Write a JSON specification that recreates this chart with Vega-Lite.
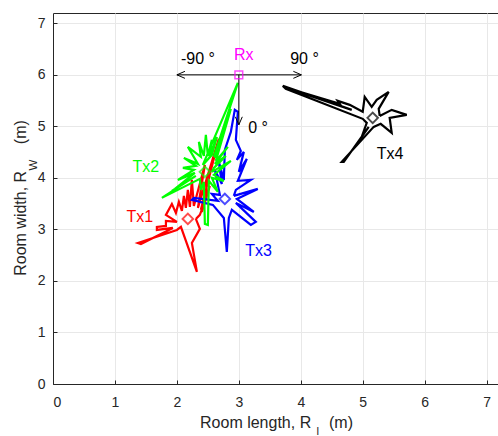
{
  "$schema": "https://vega.github.io/schema/vega-lite/v6.json",
  "width": 446,
  "height": 371,
  "autosize": "none",
  "padding": {"left": 53, "top": 13, "right": 0, "bottom": 52},
  "background": "white",
  "config": {
    "font": "Liberation Sans",
    "view": {"stroke": "#262626", "strokeWidth": 1},
    "axis": {
      "labelFont": "Liberation Sans",
      "titleFont": "Liberation Sans",
      "labelColor": "#262626",
      "titleColor": "#262626",
      "titleFontWeight": "normal",
      "domainColor": "#262626",
      "tickColor": "#262626",
      "gridColor": "#e8e8e8",
      "gridOpacity": 1
    }
  },
  "datasets": {
    "pattern": [
      {"tx": "Tx1", "k": 0, "x": 2.306, "y": 3.204},
      {"tx": "Tx1", "k": 1, "x": 2.371, "y": 3.010},
      {"tx": "Tx1", "k": 2, "x": 2.242, "y": 2.738},
      {"tx": "Tx1", "k": 3, "x": 2.323, "y": 2.175},
      {"tx": "Tx1", "k": 4, "x": 2.065, "y": 3.049},
      {"tx": "Tx1", "k": 5, "x": 2.000, "y": 2.990},
      {"tx": "Tx1", "k": 6, "x": 1.371, "y": 2.738},
      {"tx": "Tx1", "k": 7, "x": 1.419, "y": 2.718},
      {"tx": "Tx1", "k": 8, "x": 1.935, "y": 3.029},
      {"tx": "Tx1", "k": 9, "x": 1.677, "y": 2.990},
      {"tx": "Tx1", "k": 10, "x": 1.677, "y": 3.049},
      {"tx": "Tx1", "k": 11, "x": 1.823, "y": 3.068},
      {"tx": "Tx1", "k": 12, "x": 1.823, "y": 3.165},
      {"tx": "Tx1", "k": 13, "x": 2.000, "y": 3.146},
      {"tx": "Tx1", "k": 14, "x": 1.823, "y": 3.282},
      {"tx": "Tx1", "k": 15, "x": 1.919, "y": 3.495},
      {"tx": "Tx1", "k": 16, "x": 1.984, "y": 3.320},
      {"tx": "Tx1", "k": 17, "x": 2.032, "y": 3.534},
      {"tx": "Tx1", "k": 18, "x": 2.081, "y": 3.359},
      {"tx": "Tx1", "k": 19, "x": 2.113, "y": 3.650},
      {"tx": "Tx1", "k": 20, "x": 2.145, "y": 3.417},
      {"tx": "Tx1", "k": 21, "x": 2.177, "y": 3.767},
      {"tx": "Tx1", "k": 22, "x": 2.210, "y": 3.437},
      {"tx": "Tx1", "k": 23, "x": 2.242, "y": 3.961},
      {"tx": "Tx1", "k": 24, "x": 2.274, "y": 3.456},
      {"tx": "Tx1", "k": 25, "x": 2.452, "y": 4.252},
      {"tx": "Tx1", "k": 26, "x": 2.339, "y": 3.417},
      {"tx": "Tx1", "k": 27, "x": 2.677, "y": 4.757},
      {"tx": "Tx1", "k": 28, "x": 2.387, "y": 3.379},
      {"tx": "Tx1", "k": 29, "x": 2.532, "y": 3.845},
      {"tx": "Tx1", "k": 30, "x": 2.403, "y": 3.340},
      {"tx": "Tx1", "k": 31, "x": 2.484, "y": 3.650},
      {"tx": "Tx1", "k": 32, "x": 2.371, "y": 3.282},
      {"tx": "Tx1", "k": 33, "x": 2.306, "y": 3.204},

      {"tx": "Tx3", "k": 0, "x": 2.919, "y": 3.650},
      {"tx": "Tx3", "k": 1, "x": 3.306, "y": 3.786},
      {"tx": "Tx3", "k": 2, "x": 2.968, "y": 3.592},
      {"tx": "Tx3", "k": 3, "x": 3.242, "y": 3.340},
      {"tx": "Tx3", "k": 4, "x": 2.952, "y": 3.515},
      {"tx": "Tx3", "k": 5, "x": 3.274, "y": 3.146},
      {"tx": "Tx3", "k": 6, "x": 3.194, "y": 3.087},
      {"tx": "Tx3", "k": 7, "x": 2.887, "y": 3.379},
      {"tx": "Tx3", "k": 8, "x": 2.839, "y": 3.223},
      {"tx": "Tx3", "k": 9, "x": 2.806, "y": 2.563},
      {"tx": "Tx3", "k": 10, "x": 2.758, "y": 3.223},
      {"tx": "Tx3", "k": 11, "x": 2.581, "y": 3.476},
      {"tx": "Tx3", "k": 12, "x": 2.242, "y": 3.573},
      {"tx": "Tx3", "k": 13, "x": 2.274, "y": 3.612},
      {"tx": "Tx3", "k": 14, "x": 2.661, "y": 3.553},
      {"tx": "Tx3", "k": 15, "x": 2.565, "y": 3.689},
      {"tx": "Tx3", "k": 16, "x": 2.694, "y": 3.670},
      {"tx": "Tx3", "k": 17, "x": 2.613, "y": 4.155},
      {"tx": "Tx3", "k": 18, "x": 2.726, "y": 3.883},
      {"tx": "Tx3", "k": 19, "x": 2.677, "y": 4.311},
      {"tx": "Tx3", "k": 20, "x": 2.758, "y": 3.961},
      {"tx": "Tx3", "k": 21, "x": 2.774, "y": 4.544},
      {"tx": "Tx3", "k": 22, "x": 2.871, "y": 4.893},
      {"tx": "Tx3", "k": 23, "x": 2.935, "y": 5.320},
      {"tx": "Tx3", "k": 24, "x": 2.984, "y": 5.282},
      {"tx": "Tx3", "k": 25, "x": 2.952, "y": 4.738},
      {"tx": "Tx3", "k": 26, "x": 3.032, "y": 4.524},
      {"tx": "Tx3", "k": 27, "x": 2.968, "y": 4.350},
      {"tx": "Tx3", "k": 28, "x": 3.081, "y": 4.505},
      {"tx": "Tx3", "k": 29, "x": 3.000, "y": 4.117},
      {"tx": "Tx3", "k": 30, "x": 3.129, "y": 4.369},
      {"tx": "Tx3", "k": 31, "x": 2.984, "y": 3.942},
      {"tx": "Tx3", "k": 32, "x": 3.194, "y": 3.961},
      {"tx": "Tx3", "k": 33, "x": 3.000, "y": 3.806},
      {"tx": "Tx3", "k": 34, "x": 2.952, "y": 3.767},
      {"tx": "Tx3", "k": 35, "x": 2.919, "y": 3.650},

      {"tx": "Tx2", "k": 0, "x": 2.565, "y": 4.117},
      {"tx": "Tx2", "k": 1, "x": 2.871, "y": 4.330},
      {"tx": "Tx2", "k": 2, "x": 2.597, "y": 4.058},
      {"tx": "Tx2", "k": 3, "x": 2.758, "y": 3.942},
      {"tx": "Tx2", "k": 4, "x": 2.565, "y": 4.000},
      {"tx": "Tx2", "k": 5, "x": 2.661, "y": 3.728},
      {"tx": "Tx2", "k": 6, "x": 2.516, "y": 3.942},
      {"tx": "Tx2", "k": 7, "x": 2.500, "y": 3.087},
      {"tx": "Tx2", "k": 8, "x": 2.452, "y": 3.107},
      {"tx": "Tx2", "k": 9, "x": 2.435, "y": 3.922},
      {"tx": "Tx2", "k": 10, "x": 2.387, "y": 3.767},
      {"tx": "Tx2", "k": 11, "x": 2.371, "y": 3.981},
      {"tx": "Tx2", "k": 12, "x": 1.758, "y": 3.612},
      {"tx": "Tx2", "k": 13, "x": 1.806, "y": 3.650},
      {"tx": "Tx2", "k": 14, "x": 2.306, "y": 4.039},
      {"tx": "Tx2", "k": 15, "x": 1.919, "y": 3.748},
      {"tx": "Tx2", "k": 16, "x": 1.968, "y": 3.786},
      {"tx": "Tx2", "k": 17, "x": 2.290, "y": 4.097},
      {"tx": "Tx2", "k": 18, "x": 2.016, "y": 3.961},
      {"tx": "Tx2", "k": 19, "x": 2.274, "y": 4.155},
      {"tx": "Tx2", "k": 20, "x": 2.097, "y": 4.194},
      {"tx": "Tx2", "k": 21, "x": 2.306, "y": 4.233},
      {"tx": "Tx2", "k": 22, "x": 2.113, "y": 4.388},
      {"tx": "Tx2", "k": 23, "x": 2.339, "y": 4.272},
      {"tx": "Tx2", "k": 24, "x": 2.177, "y": 4.602},
      {"tx": "Tx2", "k": 25, "x": 2.387, "y": 4.408},
      {"tx": "Tx2", "k": 26, "x": 2.355, "y": 4.699},
      {"tx": "Tx2", "k": 27, "x": 2.435, "y": 4.427},
      {"tx": "Tx2", "k": 28, "x": 2.468, "y": 4.835},
      {"tx": "Tx2", "k": 29, "x": 2.500, "y": 4.427},
      {"tx": "Tx2", "k": 30, "x": 2.565, "y": 4.738},
      {"tx": "Tx2", "k": 31, "x": 2.532, "y": 4.427},
      {"tx": "Tx2", "k": 32, "x": 2.645, "y": 4.796},
      {"tx": "Tx2", "k": 33, "x": 2.565, "y": 4.447},
      {"tx": "Tx2", "k": 34, "x": 2.419, "y": 4.252},
      {"tx": "Tx2", "k": 35, "x": 2.984, "y": 5.845},
      {"tx": "Tx2", "k": 36, "x": 2.597, "y": 4.408},
      {"tx": "Tx2", "k": 37, "x": 2.758, "y": 4.990},
      {"tx": "Tx2", "k": 38, "x": 2.613, "y": 4.388},
      {"tx": "Tx2", "k": 39, "x": 2.871, "y": 5.340},
      {"tx": "Tx2", "k": 40, "x": 2.629, "y": 4.330},
      {"tx": "Tx2", "k": 41, "x": 2.823, "y": 4.602},
      {"tx": "Tx2", "k": 42, "x": 2.613, "y": 4.272},
      {"tx": "Tx2", "k": 43, "x": 2.790, "y": 4.427},
      {"tx": "Tx2", "k": 44, "x": 2.597, "y": 4.194},
      {"tx": "Tx2", "k": 45, "x": 2.565, "y": 4.117},

      {"tx": "Tx4", "k": 0, "x": 5.274, "y": 5.203},
      {"tx": "Tx4", "k": 1, "x": 5.468, "y": 5.320},
      {"tx": "Tx4", "k": 2, "x": 5.710, "y": 5.223},
      {"tx": "Tx4", "k": 3, "x": 5.435, "y": 5.165},
      {"tx": "Tx4", "k": 4, "x": 5.468, "y": 4.874},
      {"tx": "Tx4", "k": 5, "x": 5.290, "y": 5.049},
      {"tx": "Tx4", "k": 6, "x": 5.177, "y": 4.990},
      {"tx": "Tx4", "k": 7, "x": 4.661, "y": 4.311},
      {"tx": "Tx4", "k": 8, "x": 4.694, "y": 4.311},
      {"tx": "Tx4", "k": 9, "x": 5.097, "y": 4.990},
      {"tx": "Tx4", "k": 10, "x": 4.984, "y": 4.796},
      {"tx": "Tx4", "k": 11, "x": 5.065, "y": 5.068},
      {"tx": "Tx4", "k": 12, "x": 5.000, "y": 5.146},
      {"tx": "Tx4", "k": 13, "x": 3.758, "y": 5.728},
      {"tx": "Tx4", "k": 14, "x": 3.710, "y": 5.786},
      {"tx": "Tx4", "k": 15, "x": 4.823, "y": 5.320},
      {"tx": "Tx4", "k": 16, "x": 3.823, "y": 5.728},
      {"tx": "Tx4", "k": 17, "x": 4.629, "y": 5.437},
      {"tx": "Tx4", "k": 18, "x": 4.597, "y": 5.495},
      {"tx": "Tx4", "k": 19, "x": 4.790, "y": 5.417},
      {"tx": "Tx4", "k": 20, "x": 5.000, "y": 5.282},
      {"tx": "Tx4", "k": 21, "x": 5.032, "y": 5.573},
      {"tx": "Tx4", "k": 22, "x": 5.145, "y": 5.379},
      {"tx": "Tx4", "k": 23, "x": 5.226, "y": 5.515},
      {"tx": "Tx4", "k": 24, "x": 5.419, "y": 5.670},
      {"tx": "Tx4", "k": 25, "x": 5.258, "y": 5.340},
      {"tx": "Tx4", "k": 26, "x": 5.274, "y": 5.203}
    ],
    "centres": [
      {"tx": "Tx1", "x": 2.177, "y": 3.204},
      {"tx": "Tx3", "x": 2.774, "y": 3.592},
      {"tx": "Tx2", "x": 2.452, "y": 4.117},
      {"tx": "Tx4", "x": 5.161, "y": 5.165}
    ],
    "receiver": [
      {"name": "Rx", "x": 3.0, "y": 6.0}
    ],
    "guides": [
      {"seg": "h", "k": 0, "x": 2.0, "y": 6.0},
      {"seg": "h", "k": 1, "x": 4.01, "y": 6.0},
      {"seg": "hl", "k": 0, "x": 2.13, "y": 6.068},
      {"seg": "hl", "k": 1, "x": 2.0, "y": 6.0},
      {"seg": "hl", "k": 2, "x": 2.13, "y": 5.932},
      {"seg": "hr", "k": 0, "x": 3.88, "y": 6.068},
      {"seg": "hr", "k": 1, "x": 4.01, "y": 6.0},
      {"seg": "hr", "k": 2, "x": 3.88, "y": 5.932},
      {"seg": "v", "k": 0, "x": 3.0, "y": 6.0},
      {"seg": "v", "k": 1, "x": 3.0, "y": 5.03},
      {"seg": "vh", "k": 0, "x": 2.944, "y": 5.185},
      {"seg": "vh", "k": 1, "x": 3.0, "y": 5.03},
      {"seg": "vh", "k": 2, "x": 3.056, "y": 5.185}
    ],
    "labels": [
      {"t": "Rx", "x": 3.08, "y": 6.39, "c": "#ff00ff"},
      {"t": "-90 °", "x": 2.34, "y": 6.31, "c": "#000000"},
      {"t": "90 °", "x": 4.06, "y": 6.31, "c": "#000000"},
      {"t": "0 °", "x": 3.31, "y": 4.97, "c": "#000000"},
      {"t": "Tx1", "x": 1.40, "y": 3.24, "c": "#ff0000"},
      {"t": "Tx2", "x": 1.50, "y": 4.21, "c": "#00ff00"},
      {"t": "Tx3", "x": 3.32, "y": 2.58, "c": "#0000ff"},
      {"t": "Tx4", "x": 5.44, "y": 4.47, "c": "#000000"}
    ]
  },
  "layer": [
    {
      "data": {"name": "pattern"},
      "mark": {"type": "line", "strokeWidth": 2.2, "strokeJoin": "miter", "strokeMiterLimit": 4},
      "encoding": {
        "x": {
          "field": "x", "type": "quantitative",
          "scale": {"domain": [0, 7.2], "nice": false, "zero": false},
          "axis": {
            "orient": "bottom",
            "values": [0, 1, 2, 3, 4, 5, 6, 7],
            "format": "d",
            "grid": true,
            "labelFontSize": 14,
            "tickSize": -4,
            "labelPadding": 15,
            "title": "Room length, R\u00a0\u00a0\u00a0\u00a0(m)",
            "titleFontSize": 16,
            "titleX": 223,
            "titleY": 43.5,
            "titleAlign": "center",
            "titleBaseline": "alphabetic"
          }
        },
        "y": {
          "field": "y", "type": "quantitative",
          "scale": {"domain": [0, 7.2], "nice": false, "zero": false},
          "axis": {
            "orient": "left",
            "values": [0, 1, 2, 3, 4, 5, 6, 7],
            "format": "d",
            "grid": true,
            "labelFontSize": 14,
            "tickSize": -4,
            "labelPadding": 12,
            "title": "Room width, R\u00a0\u00a0\u00a0\u00a0\u00a0\u00a0(m)",
            "titleFontSize": 16,
            "titleAngle": -90,
            "titleX": -28,
            "titleY": 184.5,
            "titleAlign": "center",
            "titleBaseline": "alphabetic"
          }
        },
        "color": {
          "field": "tx", "type": "nominal", "legend": null,
          "scale": {"domain": ["Tx1", "Tx2", "Tx3", "Tx4"], "range": ["#ff0000", "#00ff00", "#0000ff", "#000000"]}
        },
        "detail": {"field": "tx"},
        "order": {"field": "k", "type": "quantitative"}
      }
    },
    {
      "data": {"name": "centres"},
      "mark": {"type": "point", "shape": "diamond", "filled": false, "size": 110, "strokeWidth": 2},
      "encoding": {
        "x": {"field": "x", "type": "quantitative", "axis": null},
        "y": {"field": "y", "type": "quantitative", "axis": null},
        "color": {
          "field": "tx", "type": "nominal", "legend": null,
          "scale": {"domain": ["Tx1", "Tx2", "Tx3", "Tx4"], "range": ["#ff0000", "#00ff00", "#0000ff", "#000000"]}
        }
      }
    },
    {
      "data": {"name": "guides"},
      "mark": {"type": "line", "strokeWidth": 1, "color": "#000000"},
      "encoding": {
        "x": {"field": "x", "type": "quantitative", "axis": null},
        "y": {"field": "y", "type": "quantitative", "axis": null},
        "detail": {"field": "seg"},
        "order": {"field": "k", "type": "quantitative"}
      }
    },
    {
      "data": {"name": "receiver"},
      "mark": {"type": "point", "shape": "square", "filled": false, "size": 60, "strokeWidth": 1.5, "color": "#ff00ff"},
      "encoding": {
        "x": {"field": "x", "type": "quantitative", "axis": null},
        "y": {"field": "y", "type": "quantitative", "axis": null}
      }
    },
    {
      "data": {"name": "labels"},
      "mark": {"type": "text", "fontSize": 16, "font": "Liberation Sans", "align": "center", "baseline": "middle"},
      "encoding": {
        "x": {
          "field": "x", "type": "quantitative",
          "axis": {
            "orient": "bottom", "title": "l", "labels": false, "ticks": false, "domain": false, "grid": false,
            "titleFontSize": 11.5, "titleX": 263, "titleY": 50, "titleAlign": "left", "titleBaseline": "alphabetic"
          }
        },
        "y": {
          "field": "y", "type": "quantitative",
          "axis": {
            "orient": "left", "title": "W", "labels": false, "ticks": false, "domain": false, "grid": false,
            "titleFontSize": 11.5, "titleAngle": -90, "titleX": -17, "titleY": 157, "titleAlign": "left", "titleBaseline": "alphabetic"
          }
        },
        "text": {"field": "t"},
        "color": {"field": "c", "type": "nominal", "scale": null}
      }
    }
  ],
  "resolve": {
    "axis": {"x": "independent", "y": "independent"},
    "scale": {"color": "independent"}
  }
}
